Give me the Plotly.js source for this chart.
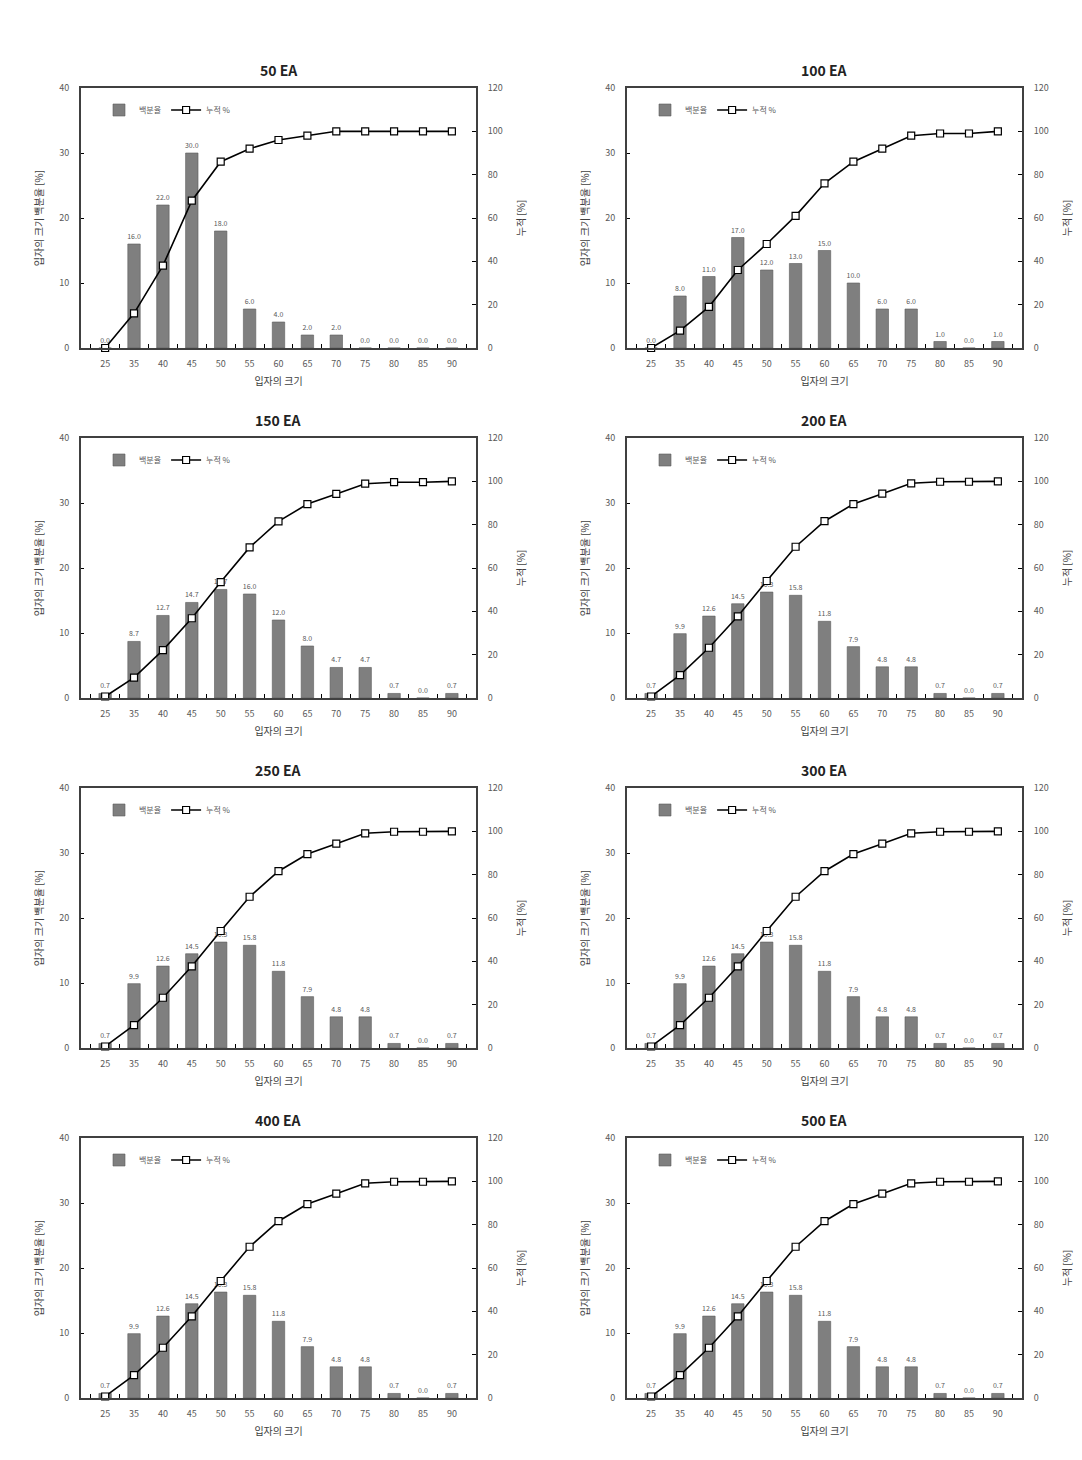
<!DOCTYPE html>
<html>
<head>
<meta charset="utf-8">
<script src="https://cdn.plot.ly/plotly-3.0.1.min.js"></script>
<style>
  html, body { margin: 0; padding: 0; background: #fff; }
  #myPlot { width: 1082px; height: 1460px; }
</style>
</head>
<body>
<div id="myPlot"></div>
<script>
// particle size classes (x categories)
const sizes = ['25', '35', '40', '45', '50', '55', '60', '65', '70', '75', '80', '85', '90'];

const panelTitles = ['50 EA', '100 EA', '150 EA', '200 EA', '250 EA', '300 EA', '400 EA', '500 EA'];

// 백분율 (bars, left axis)
const pct50  = [0.0, 16.0, 22.0, 30.0, 18.0, 6.0, 4.0, 2.0, 2.0, 0.0, 0.0, 0.0, 0.0];
const pct100 = [0.0, 8.0, 11.0, 17.0, 12.0, 13.0, 15.0, 10.0, 6.0, 6.0, 1.0, 0.0, 1.0];
const pct150 = [0.7, 8.7, 12.7, 14.7, 16.7, 16.0, 12.0, 8.0, 4.7, 4.7, 0.7, 0.0, 0.7];
const pct200 = [0.7, 9.9, 12.6, 14.5, 16.3, 15.8, 11.8, 7.9, 4.8, 4.8, 0.7, 0.0, 0.7];
const pct250 = [0.7, 9.9, 12.6, 14.5, 16.3, 15.8, 11.8, 7.9, 4.8, 4.8, 0.7, 0.0, 0.7];
const pct300 = [0.7, 9.9, 12.6, 14.5, 16.3, 15.8, 11.8, 7.9, 4.8, 4.8, 0.7, 0.0, 0.7];
const pct400 = [0.7, 9.9, 12.6, 14.5, 16.3, 15.8, 11.8, 7.9, 4.8, 4.8, 0.7, 0.0, 0.7];
const pct500 = [0.7, 9.9, 12.6, 14.5, 16.3, 15.8, 11.8, 7.9, 4.8, 4.8, 0.7, 0.0, 0.7];

// 누적 % (line, right axis)
const cum50  = [0, 16, 38, 68, 86, 92, 96, 98, 100, 100, 100, 100, 100];
const cum100 = [0, 8, 19, 36, 48, 61, 76, 86, 92, 98, 99, 99, 100];
const cum150 = [0.7, 9.4, 22.1, 36.8, 53.5, 69.5, 81.5, 89.5, 94.2, 98.9, 99.6, 99.6, 100];
const cum200 = [0.7, 10.6, 23.2, 37.7, 54.0, 69.8, 81.6, 89.5, 94.3, 99.1, 99.8, 99.8, 100];
const cum250 = [0.7, 10.6, 23.2, 37.7, 54.0, 69.8, 81.6, 89.5, 94.3, 99.1, 99.8, 99.8, 100];
const cum300 = [0.7, 10.6, 23.2, 37.7, 54.0, 69.8, 81.6, 89.5, 94.3, 99.1, 99.8, 99.8, 100];
const cum400 = [0.7, 10.6, 23.2, 37.7, 54.0, 69.8, 81.6, 89.5, 94.3, 99.1, 99.8, 99.8, 100];
const cum500 = [0.7, 10.6, 23.2, 37.7, 54.0, 69.8, 81.6, 89.5, 94.3, 99.1, 99.8, 99.8, 100];

const pctList = [pct50, pct100, pct150, pct200, pct250, pct300, pct400, pct500];
const cumList = [cum50, cum100, cum150, cum200, cum250, cum300, cum400, cum500];

const W = 1082, H = 1460;
const FONT = 'Noto Sans CJK KR';
const TICK_COLOR = '#595959';

// plot area boxes in pixels
const colLeft = [81, 627];
const plotW = 395;
const rowTop = [88, 438, 788, 1138];
const plotH = 260;

const data = [];
const layout = {
  width: W,
  height: H,
  margin: { l: 0, r: 0, t: 0, b: 0 },
  paper_bgcolor: '#fff',
  plot_bgcolor: '#fff',
  font: { family: FONT, color: TICK_COLOR, size: 9 },
  bargap: 0.57,
  annotations: [],
};

panelTitles.forEach((title, i) => {
  const col = i % 2;
  const row = Math.floor(i / 2);
  const x0 = colLeft[col] / W;
  const x1 = (colLeft[col] + plotW) / W;
  const y1 = 1 - rowTop[row] / H;
  const y0 = 1 - (rowTop[row] + plotH) / H;

  const xId = i === 0 ? 'x' : 'x' + (i + 1);
  const yL = i === 0 ? 'y' : 'y' + (i + 1);
  const yR = 'y' + (i + 9);
  const legendId = i === 0 ? 'legend' : 'legend' + (i + 1);

  data.push({
    type: 'bar',
    name: '백분율',
    x: sizes,
    y: pctList[i],
    xaxis: xId,
    yaxis: yL,
    legend: legendId,
    marker: { color: '#7f7f7f', line: { color: '#5a5a5a', width: 0.6 } },
    text: pctList[i].map((v) => v.toFixed(1)),
    textposition: 'outside',
    textfont: { size: 7, color: TICK_COLOR, family: FONT },
    constraintext: 'none',
    cliponaxis: false,
  });

  data.push({
    type: 'scatter',
    mode: 'lines+markers',
    name: '누적 %',
    x: sizes,
    y: cumList[i],
    xaxis: xId,
    yaxis: yR,
    legend: legendId,
    line: { color: '#000', width: 1.6 },
    marker: { symbol: 'square', size: 7, color: '#fff', line: { color: '#000', width: 1.2 } },
    cliponaxis: false,
  });

  const xKey = i === 0 ? 'xaxis' : 'xaxis' + (i + 1);
  const yLKey = i === 0 ? 'yaxis' : 'yaxis' + (i + 1);
  const yRKey = 'yaxis' + (i + 9);

  layout[xKey] = {
    domain: [x0, x1],
    anchor: yL,
    type: 'category',
    tickson: 'boundaries',
    ticks: 'inside',
    ticklen: 4,
    tickcolor: '#000',
    showline: true,
    mirror: true,
    linecolor: '#404040',
    linewidth: 2,
    showgrid: false,
    zeroline: false,
    tickfont: { size: 9, color: TICK_COLOR },
    ticklabelstandoff: 6,
    title: { text: '입자의 크기', font: { size: 10, color: '#404040' }, standoff: 9 },
  };

  layout[yLKey] = {
    domain: [y0, y1],
    anchor: xId,
    range: [0, 40],
    dtick: 10,
    ticks: 'inside',
    ticklen: 3,
    tickcolor: '#000',
    showline: true,
    linecolor: '#404040',
    linewidth: 2,
    showgrid: false,
    zeroline: false,
    tickfont: { size: 9, color: TICK_COLOR },
    ticklabelstandoff: 8,
    title: { text: '입자의 크기 백분율 [%]', font: { size: 10, color: '#404040' }, standoff: 14 },
  };

  layout[yRKey] = {
    overlaying: yL,
    anchor: xId,
    side: 'right',
    range: [0, 120],
    dtick: 20,
    ticks: 'inside',
    ticklen: 4,
    tickcolor: '#000',
    showline: true,
    linecolor: '#404040',
    linewidth: 2,
    showgrid: false,
    zeroline: false,
    tickfont: { size: 9, color: TICK_COLOR },
    ticklabelstandoff: 8,
    title: { text: '누적 [%]', font: { size: 10, color: '#404040' }, standoff: 16 },
  };

  layout[legendId] = {
    x: (colLeft[col] + 18) / W,
    y: 1 - (rowTop[row] + 22) / H,
    xanchor: 'left',
    yanchor: 'middle',
    orientation: 'h',
    bgcolor: 'rgba(0,0,0,0)',
    font: { size: 8, color: TICK_COLOR, family: FONT },
    itemwidth: 30,
  };

  layout.annotations.push({
    text: '<b>' + title + '</b>',
    xref: 'paper',
    yref: 'paper',
    x: (x0 + x1) / 2,
    y: 1 - (rowTop[row] - 18) / H,
    xanchor: 'center',
    yanchor: 'middle',
    showarrow: false,
    font: { size: 14, color: '#222', family: FONT },
  });
});

const config = { responsive: false, displayModeBar: false, staticPlot: true };

Plotly.newPlot('myPlot', data, layout, config);
</script>
</body>
</html>
